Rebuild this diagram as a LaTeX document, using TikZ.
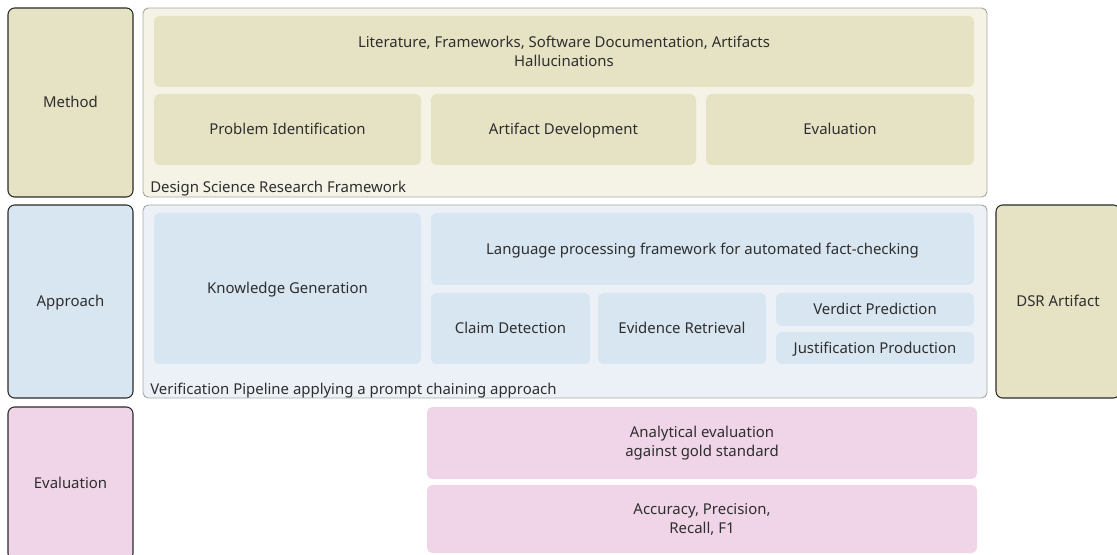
\documentclass[tikz,border=0pt]{standalone}
\usepackage{fontspec}
\setmainfont{Noto Sans}

\definecolor{txt}{HTML}{2E2E2E}
\definecolor{khaki}{HTML}{E6E3C4}
\definecolor{khakibg}{HTML}{F5F3E6}
\definecolor{bluebox}{HTML}{D8E6F1}
\definecolor{bluebg}{HTML}{ECF1F7}
\definecolor{pinkbox}{HTML}{F0D5E8}
\definecolor{framegray}{HTML}{A8A8A2}
\definecolor{sidestroke}{HTML}{2A2A2A}

\tikzset{
  base/.style={inner sep=0pt, align=center, text=txt, font=\fontsize{11.2}{14.2}\selectfont},
  oneline/.style={text height=0.8em, text depth=0.02em},
  side/.style={base, oneline, draw=sidestroke, line width=0.8pt, rounded corners=5pt},
  frame/.style={base, draw=framegray, line width=0.7pt, rounded corners=4pt},
  cell/.style={base, rounded corners=4pt},
  framelabel/.style={anchor=base west, inner sep=0pt, text=txt, font=\fontsize{11.2}{14}\selectfont},
}

% box spanning two corner points given in pixel units (x1,y1) to (x2,y2)
\newcommand{\cellbox}[7]{%
  \pgfmathsetmacro{\cbx}{(#3+#5)/2}%
  \pgfmathsetmacro{\cby}{(#4+#6)/2}%
  \pgfmathsetmacro{\cbw}{(#5-#3)*0.75}%
  \pgfmathsetmacro{\cbh}{(#6-#4)*0.75}%
  \node[#1, minimum width=\cbw pt, minimum height=\cbh pt] (#2) at (\cbx,\cby) {#7};}

\begin{document}
\begin{tikzpicture}[x=0.75pt, y=-0.75pt]
\useasboundingbox[fill=white] (0,0) rectangle (1117,555);

% ---- Method row
\cellbox{side, fill=khaki}{method}{8}{8}{133}{197}{Method}
\cellbox{frame, fill=khakibg}{dsr}{143}{8}{987}{197}{}
\cellbox{cell, fill=khaki}{lit}{154}{16}{974}{87}{Literature, Frameworks, Software Documentation, Artifacts\\Hallucinations}
\cellbox{cell, oneline, fill=khaki}{probid}{154}{94}{421}{165}{Problem Identification}
\cellbox{cell, oneline, fill=khaki}{artdev}{431}{94}{696}{165}{Artifact Development}
\cellbox{cell, oneline, fill=khaki}{evalm}{706}{94}{974}{165}{Evaluation}
\node[framelabel] (dsrlabel) at (150,193) {Design Science Research Framework};

% ---- Approach row
\cellbox{side, fill=bluebox}{approach}{8}{205}{133}{398}{Approach}
\cellbox{frame, fill=bluebg}{pipe}{143}{205}{987}{398}{}
\cellbox{cell, oneline, fill=bluebox}{knowgen}{154}{213}{421}{364}{Knowledge Generation}
\cellbox{cell, oneline, fill=bluebox}{langfw}{431}{213}{974}{285}{Language processing framework for automated fact-checking}
\cellbox{cell, oneline, fill=bluebox}{claim}{431}{293}{590}{364}{Claim Detection}
\cellbox{cell, oneline, fill=bluebox}{evid}{598}{293}{766}{364}{Evidence Retrieval}
\cellbox{cell, oneline, fill=bluebox}{verdict}{776}{293}{974}{326}{Verdict Prediction}
\cellbox{cell, oneline, fill=bluebox}{justif}{776}{332}{974}{364}{Justification Production}
\node[framelabel] (pipelabel) at (150,395) {Verification Pipeline applying a prompt chaining approach};

\cellbox{side, fill=khaki}{artifact}{996}{205}{1120}{398}{DSR Artifact}

% ---- Evaluation row
\cellbox{side, fill=pinkbox}{evaluation}{8}{407}{133}{560}{Evaluation}
\cellbox{cell, fill=pinkbox}{analytic}{427}{407}{977}{479}{Analytical evaluation\\against gold standard}
\cellbox{cell, fill=pinkbox}{metrics}{427}{485}{977}{553}{Accuracy, Precision,\\Recall, F1}
\end{tikzpicture}
\end{document}
